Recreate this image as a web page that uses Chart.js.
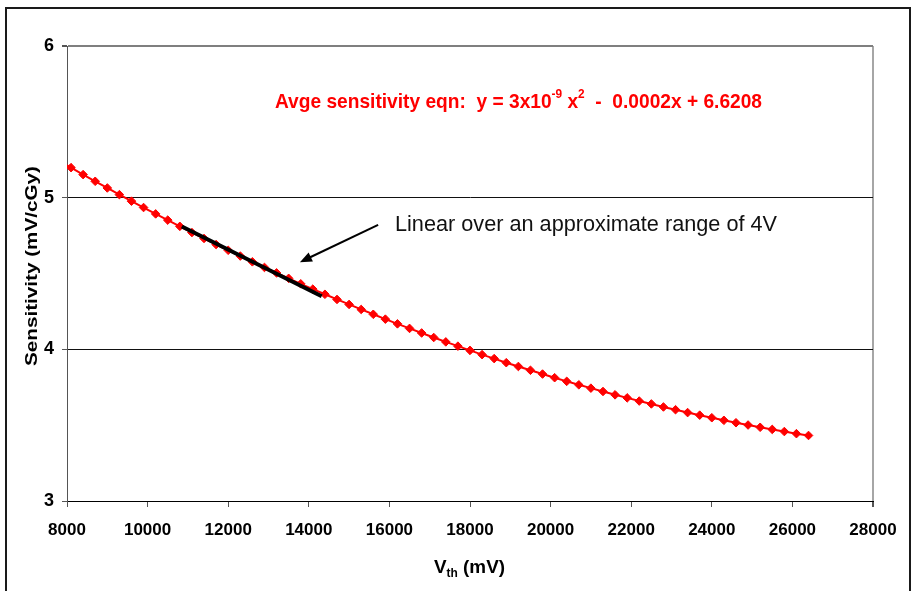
<!DOCTYPE html>
<html>
<head>
<meta charset="utf-8">
<title>Sensitivity vs Vth</title>
<script src="https://cdn.jsdelivr.net/npm/chart.js@4.4.1/dist/chart.umd.min.js"></script>
<style>
  html, body { margin: 0; padding: 0; background: #fff; }
  #wrap { position: relative; width: 914px; height: 591px; }
</style>
</head>
<body>
<div id="wrap"><canvas id="sens" width="914" height="591"></canvas></div>
<script>
// threshold voltage (mV) and measured sensitivity (mV/cGy)
const vth = [7800, 8100, 8400, 8700, 9000, 9300, 9600, 9900, 10200, 10500,
  10800, 11100, 11400, 11700, 12000, 12300, 12600, 12900, 13200, 13500,
  13800, 14100, 14400, 14700, 15000, 15300, 15600, 15900, 16200, 16500,
  16800, 17100, 17400, 17700, 18000, 18300, 18600, 18900, 19200, 19500,
  19800, 20100, 20400, 20700, 21000, 21300, 21600, 21900, 22200, 22500,
  22800, 23100, 23400, 23700, 24000, 24300, 24600, 24900, 25200, 25500,
  25800, 26100, 26400];
const sensitivity = [5.243, 5.198, 5.152, 5.108, 5.064, 5.020, 4.977, 4.935, 4.893, 4.852,
  4.811, 4.770, 4.731, 4.691, 4.653, 4.615, 4.577, 4.540, 4.504, 4.468,
  4.432, 4.397, 4.363, 4.329, 4.296, 4.263, 4.231, 4.199, 4.168, 4.138,
  4.108, 4.078, 4.049, 4.021, 3.993, 3.965, 3.939, 3.912, 3.887, 3.862,
  3.837, 3.813, 3.789, 3.766, 3.744, 3.722, 3.700, 3.680, 3.659, 3.640,
  3.620, 3.602, 3.583, 3.566, 3.549, 3.532, 3.516, 3.501, 3.486, 3.472,
  3.458, 3.444, 3.432];

// straight segment over the linear part
const linearVth = [10850, 14320];
const linearSens = [4.81, 4.35];

// arrow pointing at the linear part (tail, head)
const arrowVth = [15720, 13780];
const arrowSens = [4.82, 4.575];

// axis ranges
const xMin = 8000, xMax = 28000, xStep = 2000;
const yMin = 3, yMax = 6, yStep = 1;

const FONT = '"Liberation Sans", Arial, sans-serif';

// draw text squeezed/stretched to a given width
function fitText(ctx, text, x, y, font, width, align) {
  ctx.save();
  ctx.font = font;
  const w = ctx.measureText(text).width;
  const sx = width / w;
  ctx.translate(x, y);
  ctx.scale(sx, 1);
  ctx.textAlign = align || 'left';
  ctx.fillText(text, 0, 0);
  ctx.restore();
}

// text made of runs (for superscripts/subscripts), fitted to a width
function fitRuns(ctx, runs, x, y, width, weight) {
  ctx.save();
  let total = 0;
  runs.forEach(r => {
    ctx.font = weight + ' ' + r.size + 'px ' + FONT;
    r.w = ctx.measureText(r.t).width;
    total += r.w;
  });
  const sx = width / total;
  ctx.translate(x, y);
  ctx.scale(sx, 1);
  ctx.textAlign = 'left';
  let cx = 0;
  runs.forEach(r => {
    ctx.font = weight + ' ' + r.size + 'px ' + FONT;
    ctx.fillText(r.t, cx, r.dy);
    cx += r.w;
  });
  ctx.restore();
}

const notes = {
  id: 'notes',
  afterDraw(chart) {
    const ctx = chart.ctx;
    const xs = chart.scales.x, ys = chart.scales.y;

    // outer frame
    ctx.save();
    ctx.strokeStyle = '#1a1a1a';
    ctx.lineWidth = 2;
    ctx.beginPath();
    ctx.moveTo(6, 600);
    ctx.lineTo(6, 8);
    ctx.lineTo(910, 8);
    ctx.lineTo(910, 600);
    ctx.stroke();
    ctx.restore();

    // arrow
    const x0 = xs.getPixelForValue(arrowVth[0]), y0 = ys.getPixelForValue(arrowSens[0]);
    const x1 = xs.getPixelForValue(arrowVth[1]), y1 = ys.getPixelForValue(arrowSens[1]);
    const ang = Math.atan2(y1 - y0, x1 - x0);
    const headLen = 12, headW = 5;
    ctx.save();
    ctx.strokeStyle = '#000';
    ctx.fillStyle = '#000';
    ctx.lineWidth = 2;
    ctx.beginPath();
    ctx.moveTo(x0, y0);
    ctx.lineTo(x1 - Math.cos(ang) * headLen * 0.8, y1 - Math.sin(ang) * headLen * 0.8);
    ctx.stroke();
    ctx.beginPath();
    ctx.moveTo(x1, y1);
    ctx.lineTo(x1 - Math.cos(ang) * headLen - Math.sin(ang) * headW,
               y1 - Math.sin(ang) * headLen + Math.cos(ang) * headW);
    ctx.lineTo(x1 - Math.cos(ang) * headLen + Math.sin(ang) * headW,
               y1 - Math.sin(ang) * headLen - Math.cos(ang) * headW);
    ctx.closePath();
    ctx.fill();
    ctx.restore();

    // annotation
    ctx.save();
    ctx.fillStyle = '#111';
    fitText(ctx, 'Linear over an approximate range of 4V', 395, 231, '22px ' + FONT, 382);
    ctx.restore();

    // fitted equation
    ctx.save();
    ctx.fillStyle = '#ff0000';
    fitRuns(ctx, [
      { t: 'Avge sensitivity eqn:  y = 3x10', size: 21, dy: 0 },
      { t: '-9', size: 13, dy: -10 },
      { t: ' x', size: 21, dy: 0 },
      { t: '2', size: 13, dy: -10 },
      { t: '  -  0.0002x + 6.6208', size: 21, dy: 0 }
    ], 275, 108, 487, 'bold');
    ctx.restore();

    // y axis title
    ctx.save();
    ctx.fillStyle = '#000';
    ctx.translate(37, 266);
    ctx.rotate(-Math.PI / 2);
    fitText(ctx, 'Sensitivity (mV/cGy)', 0, 0, 'bold 16px ' + FONT, 200, 'center');
    ctx.restore();

    // x axis title
    ctx.save();
    ctx.fillStyle = '#000';
    fitRuns(ctx, [
      { t: 'V', size: 19, dy: 0 },
      { t: 'th', size: 12, dy: 4 },
      { t: ' (mV)', size: 19, dy: 0 }
    ], 434, 573, 71, 'bold');
    ctx.restore();
  }
};

const ctx = document.getElementById('sens').getContext('2d');
new Chart(ctx, {
  type: 'scatter',
  data: {
    datasets: [{
      label: 'Sensitivity',
      order: 1,
      data: vth.map((v, i) => ({ x: v, y: sensitivity[i] })),
      showLine: true,
      borderColor: '#ff0000',
      backgroundColor: '#ff0000',
      borderWidth: 2,
      pointStyle: 'rectRot',
      pointRadius: 4.3,
      pointBorderWidth: 1,
      pointBorderColor: '#ff0000',
      tension: 0
    }, {
      label: 'Linear range',
      order: 0,
      data: linearVth.map((v, i) => ({ x: v, y: linearSens[i] })),
      showLine: true,
      borderColor: '#000',
      borderWidth: 4,
      pointRadius: 0
    }]
  },
  plugins: [notes],
  options: {
    responsive: false,
    animation: false,
    devicePixelRatio: 1,
    layout: { padding: { top: 46, right: 41, left: 0, bottom: 0 } },
    plugins: {
      legend: { display: false },
      tooltip: { enabled: false }
    },
    scales: {
      x: {
        type: 'linear',
        min: xMin,
        max: xMax,
        afterFit: s => { s.height = 90; },
        ticks: {
          stepSize: xStep,
          color: '#000',
          padding: 13,
          callback: v => String(v),
          font: { family: FONT, size: 17, weight: 'bold' }
        },
        grid: {
          drawOnChartArea: true,
          color: c => (c.tick && c.tick.value === xMax) ? '#a6a6a6' : 'rgba(0,0,0,0)',
          lineWidth: c => (c.tick && c.tick.value === xMax) ? 2 : 1,
          tickColor: '#555',
          tickLength: 6
        },
        border: { color: '#000', width: 1 }
      },
      y: {
        type: 'linear',
        min: yMin,
        max: yMax,
        afterFit: s => { s.width = 67; },
        ticks: {
          stepSize: yStep,
          color: '#000',
          padding: 8,
          font: { family: FONT, size: 18, weight: 'bold' }
        },
        grid: {
          color: c => (c.tick && c.tick.value === yMax) ? '#7f7f7f' : '#111',
          lineWidth: c => (c.tick && c.tick.value === yMax) ? 2 : 1,
          tickColor: '#555',
          tickLength: 5
        },
        border: { color: '#555', width: 1 }
      }
    }
  }
});
</script>
</body>
</html>
